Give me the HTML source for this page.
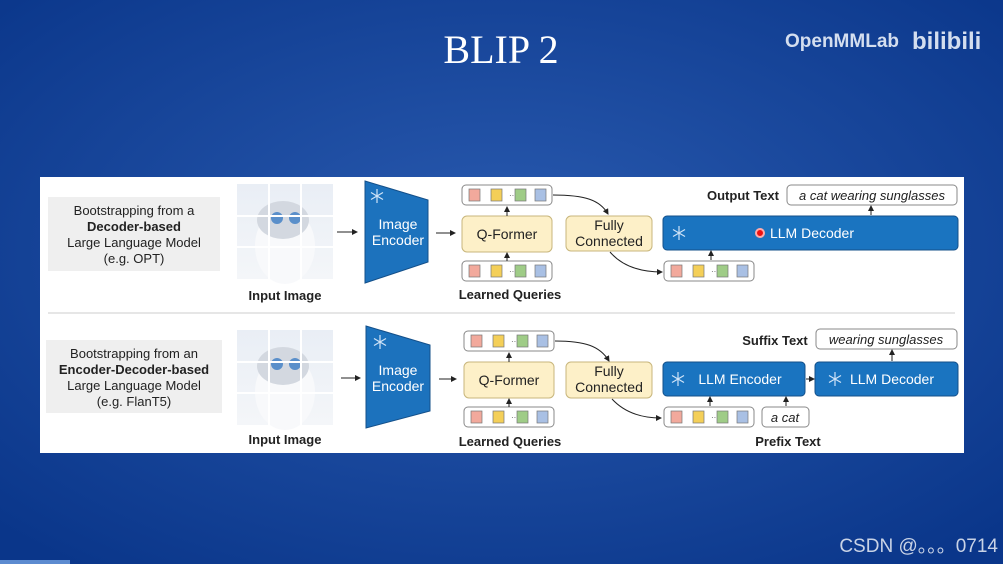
<!DOCTYPE html>
<html><head><meta charset="utf-8"><style>
html,body{margin:0;padding:0;width:1003px;height:564px;overflow:hidden;background:#0b3a90}
svg{display:block}
text{font-family:"Liberation Sans",sans-serif}
</style></head><body>
<svg width="1003" height="564" viewBox="0 0 1003 564" xmlns="http://www.w3.org/2000/svg">
<defs>
<radialGradient id="bg" cx="0.5" cy="0.45" r="0.7">
<stop offset="0" stop-color="#2a5bb0"/><stop offset="1" stop-color="#0a368a"/></radialGradient>
<linearGradient id="cat" x1="0" y1="0" x2="0" y2="1">
<stop offset="0" stop-color="#e9eef5"/><stop offset="1" stop-color="#f4f6f9"/></linearGradient>
<marker id="ah" markerWidth="6" markerHeight="6" refX="5" refY="3" orient="auto" markerUnits="userSpaceOnUse">
<path d="M0,0 L6,3 L0,6 z" fill="#222"/></marker>
<g id="img">
<rect x="0" y="0" width="96" height="95" fill="url(#cat)"/>
<ellipse cx="48" cy="62" rx="30" ry="38" fill="#f8f9fb"/>
<ellipse cx="46" cy="36" rx="26" ry="19" fill="#d3d8e0"/>
<circle cx="40" cy="34" r="6" fill="#5a8fca"/><circle cx="58" cy="34" r="6" fill="#5a8fca"/>
<path d="M32 0V95M64 0V95M0 32H96M0 63H96" stroke="#fff" stroke-width="2"/>
</g>
<g id="q">
<rect x="0" y="0" width="90" height="20" rx="4" fill="#fff" stroke="#888" stroke-width="1"/>
<rect x="7" y="4" width="11" height="12" fill="#f2a99c" stroke="#777" stroke-width=".7"/>
<rect x="29" y="4" width="11" height="12" fill="#f4cf58" stroke="#777" stroke-width=".7"/>
<text x="47" y="13" font-size="8" fill="#555">···</text>
<rect x="53" y="4" width="11" height="12" fill="#9fcc87" stroke="#777" stroke-width=".7"/>
<rect x="73" y="4" width="11" height="12" fill="#a9c0e4" stroke="#777" stroke-width=".7"/>
</g>
<g id="sf" stroke="#cfe3f7" stroke-width="1.2">
<path d="M0,-7V7M-6,-3.5L6,3.5M-6,3.5L6,-3.5"/></g>
</defs>
<rect width="1003" height="564" fill="url(#bg)"/>
<text x="501" y="63" font-size="40" fill="#fff" text-anchor="middle" style="font-family:'Liberation Serif',serif">BLIP 2</text>
<text x="785" y="47" font-size="19" font-weight="bold" fill="#d4deef">OpenMMLab</text>
<text x="912" y="49" font-size="24" font-weight="bold" fill="#d4deef">bilibili</text>
<text x="998" y="552" font-size="19" fill="#c9d3e6" text-anchor="end">CSDN @。。。0714</text>
<rect x="0" y="560" width="70" height="4" fill="#5c8bd0"/>

<rect x="40" y="177" width="924" height="276" fill="#fff"/>
<line x1="48" y1="313" x2="955" y2="313" stroke="#ddd" stroke-width="1.5"/>

<g font-size="13" fill="#222" stroke="none">
<!-- Row 1 -->
<rect x="48" y="197" width="172" height="74" fill="#efefef"/>
<text x="134" y="215" text-anchor="middle">Bootstrapping from a</text>
<text x="134" y="231" text-anchor="middle" font-weight="bold">Decoder-based</text>
<text x="134" y="247" text-anchor="middle">Large Language Model</text>
<text x="134" y="263" text-anchor="middle">(e.g. OPT)</text>
<use href="#img" x="237" y="184"/>
<text x="285" y="300" text-anchor="middle" font-weight="bold">Input Image</text>
<line x1="337" y1="232" x2="357" y2="232" stroke="#222" marker-end="url(#ah)"/>
<path d="M365,181 L428,200 L428,262 L365,283 z" fill="#1c72bd" stroke="#14508a"/>
<use href="#sf" x="377" y="196"/>
<text x="398" y="229" text-anchor="middle" fill="#fff" font-size="14">Image</text>
<text x="398" y="245" text-anchor="middle" fill="#fff" font-size="14">Encoder</text>
<line x1="436" y1="233" x2="455" y2="233" stroke="#222" marker-end="url(#ah)"/>
<rect x="462" y="216" width="90" height="36" rx="5" fill="#fdf0c8" stroke="#c8b67c"/>
<text x="507" y="239" text-anchor="middle" font-size="14">Q-Former</text>
<use href="#q" x="462" y="185"/>
<use href="#q" x="462" y="261"/>
<line x1="507" y1="216" x2="507" y2="207" stroke="#222" marker-end="url(#ah)"/>
<line x1="507" y1="261" x2="507" y2="253" stroke="#222" marker-end="url(#ah)"/>
<text x="510" y="299" text-anchor="middle" font-weight="bold">Learned Queries</text>
<rect x="566" y="216" width="86" height="35" rx="5" fill="#fdf0c8" stroke="#c8b67c"/>
<text x="609" y="230" text-anchor="middle" font-size="14">Fully</text>
<text x="609" y="246" text-anchor="middle" font-size="14">Connected</text>
<path d="M553,195 C585,195 600,200 608,214" fill="none" stroke="#222" marker-end="url(#ah)"/>
<path d="M610,252 C622,266 640,272 662,272" fill="none" stroke="#222" marker-end="url(#ah)"/>
<use href="#q" x="664" y="261"/>
<rect x="663" y="216" width="295" height="34" rx="4" fill="#1a74c0" stroke="#14508a"/>
<use href="#sf" x="679" y="233"/>
<circle cx="760" cy="233" r="4" fill="#e11" stroke="#faa" stroke-width="2"/>
<text x="812" y="238" text-anchor="middle" fill="#fff" font-size="14">LLM Decoder</text>
<line x1="711" y1="260" x2="711" y2="251" stroke="#222" marker-end="url(#ah)"/>
<text x="743" y="200" text-anchor="middle" font-weight="bold">Output Text</text>
<rect x="787" y="185" width="170" height="20" rx="4" fill="#fff" stroke="#888"/>
<text x="872" y="200" text-anchor="middle" font-style="italic">a cat wearing sunglasses</text>
<line x1="871" y1="215" x2="871" y2="206" stroke="#222" marker-end="url(#ah)"/>

<!-- Row 2 -->
<rect x="46" y="340" width="176" height="73" fill="#efefef"/>
<text x="134" y="358" text-anchor="middle">Bootstrapping from an</text>
<text x="134" y="374" text-anchor="middle" font-weight="bold">Encoder-Decoder-based</text>
<text x="134" y="390" text-anchor="middle">Large Language Model</text>
<text x="134" y="406" text-anchor="middle">(e.g. FlanT5)</text>
<use href="#img" x="237" y="330"/>
<text x="285" y="444" text-anchor="middle" font-weight="bold">Input Image</text>
<line x1="341" y1="378" x2="360" y2="378" stroke="#222" marker-end="url(#ah)"/>
<path d="M366,326 L430,345 L430,411 L366,428 z" fill="#1c72bd" stroke="#14508a"/>
<use href="#sf" x="380" y="342"/>
<text x="398" y="375" text-anchor="middle" fill="#fff" font-size="14">Image</text>
<text x="398" y="391" text-anchor="middle" fill="#fff" font-size="14">Encoder</text>
<line x1="439" y1="379" x2="456" y2="379" stroke="#222" marker-end="url(#ah)"/>
<rect x="464" y="362" width="90" height="36" rx="5" fill="#fdf0c8" stroke="#c8b67c"/>
<text x="509" y="385" text-anchor="middle" font-size="14">Q-Former</text>
<use href="#q" x="464" y="331"/>
<use href="#q" x="464" y="407"/>
<line x1="509" y1="362" x2="509" y2="353" stroke="#222" marker-end="url(#ah)"/>
<line x1="509" y1="407" x2="509" y2="399" stroke="#222" marker-end="url(#ah)"/>
<text x="510" y="446" text-anchor="middle" font-weight="bold">Learned Queries</text>
<rect x="566" y="362" width="86" height="36" rx="5" fill="#fdf0c8" stroke="#c8b67c"/>
<text x="609" y="376" text-anchor="middle" font-size="14">Fully</text>
<text x="609" y="392" text-anchor="middle" font-size="14">Connected</text>
<path d="M555,341 C585,341 600,346 609,361" fill="none" stroke="#222" marker-end="url(#ah)"/>
<path d="M612,399 C624,412 640,418 661,418" fill="none" stroke="#222" marker-end="url(#ah)"/>
<use href="#q" x="664" y="407"/>
<rect x="762" y="407" width="47" height="20" rx="4" fill="#fff" stroke="#888"/>
<text x="785" y="422" text-anchor="middle" font-style="italic">a cat</text>
<text x="788" y="446" text-anchor="middle" font-weight="bold">Prefix Text</text>
<rect x="663" y="362" width="142" height="34" rx="4" fill="#1a74c0" stroke="#14508a"/>
<use href="#sf" x="678" y="379"/>
<text x="740" y="384" text-anchor="middle" fill="#fff" font-size="14">LLM Encoder</text>
<rect x="815" y="362" width="143" height="34" rx="4" fill="#1a74c0" stroke="#14508a"/>
<use href="#sf" x="835" y="379"/>
<text x="892" y="384" text-anchor="middle" fill="#fff" font-size="14">LLM Decoder</text>
<line x1="806" y1="379" x2="814" y2="379" stroke="#222" marker-end="url(#ah)"/>
<line x1="710" y1="406" x2="710" y2="397" stroke="#222" marker-end="url(#ah)"/>
<line x1="786" y1="406" x2="786" y2="397" stroke="#222" marker-end="url(#ah)"/>
<text x="775" y="345" text-anchor="middle" font-weight="bold">Suffix Text</text>
<rect x="816" y="329" width="141" height="20" rx="4" fill="#fff" stroke="#888"/>
<text x="886" y="344" text-anchor="middle" font-style="italic">wearing sunglasses</text>
<line x1="892" y1="361" x2="892" y2="350" stroke="#222" marker-end="url(#ah)"/>
</g>
</svg>
</body></html>
